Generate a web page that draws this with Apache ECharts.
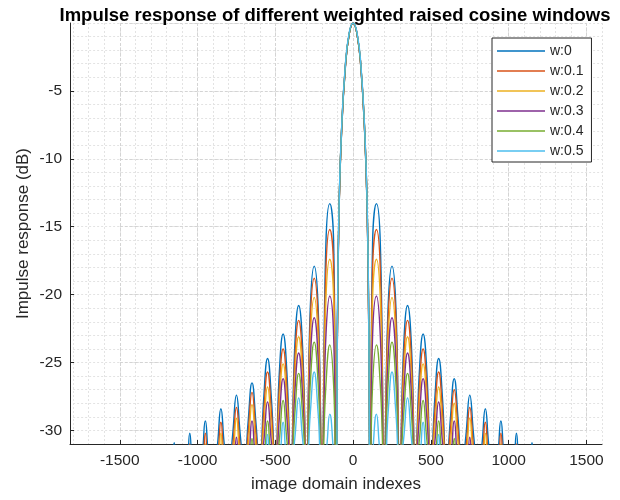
<!DOCTYPE html>
<html>
<head>
<meta charset="utf-8">
<script src="https://cdn.jsdelivr.net/npm/echarts@6/dist/echarts.min.js"></script>
<style>
  html, body { margin: 0; padding: 0; background: #fff; }
  #main { width: 620px; height: 500px; }
</style>
</head>
<body>
<div id="main"></div>
<script>
// sample positions along the image domain (shared by every curve)
var xIdx = [
  -1200, -1175, -1150, -1125, -1100, -1075, -1050, -1025, -1000, -975, -950, -925, -900, -875, -850, -825,
  -800, -775, -750, -725, -700, -675, -650, -625, -600, -575, -550, -525, -500, -475, -450, -425,
  -400, -375, -350, -325, -300, -275, -250, -225, -200, -175, -150, -125,
  -110, -100, -90, -75, -50, -25, 0, 25, 50, 75, 90, 100, 110,
  125, 150, 175, 200, 225, 250, 275, 300, 325, 350, 375, 400, 425, 450, 475, 500,
  525, 550, 575, 600, 625, 650, 675, 700, 725, 750, 775, 800, 825, 850, 875, 900,
  925, 950, 975, 1000, 1025, 1050, 1075, 1100, 1125, 1150, 1175, 1200
];

// impulse response (dB), one array per weight
var w0 = [
  -33, -33.9, -30.9, -33.9, -33, -33.2, -30.2, -33.2, -33, -32.3, -29.3, -32.3, -33, -31.4, -28.4, -31.4,
  -33, -30.4, -27.4, -30.4, -33, -29.4, -26.5, -29.4, -33, -27.7, -24.7, -27.7, -33, -25.9, -22.9, -25.9,
  -33, -23.8, -20.8, -23.8, -33, -20.9, -17.9, -20.9, -33, -16.3, -13.3, -16.3,
  -34, -22, -13.8, -8.3, -3.3, -0.8, 0, -0.8, -3.3, -8.3, -13.8, -22, -34,
  -16.3, -13.3, -16.3, -33, -20.9, -17.9, -20.9, -33, -23.8, -20.8, -23.8, -33, -25.9, -22.9, -25.9, -33,
  -27.7, -24.7, -27.7, -33, -29.2, -26.2, -29.2, -33, -30.4, -27.4, -30.4, -33, -31.4, -28.4, -31.4, -33,
  -32.3, -29.3, -32.3, -33, -33.2, -30.2, -33.2, -33, -33.9, -30.9, -33.9, -33
];
var w01 = [
  -33, -34.8, -31.8, -34.8, -33, -34.0, -31.0, -34.0, -33, -33.2, -30.2, -33.2, -33, -32.4, -29.4, -32.4,
  -33, -31.3, -28.3, -31.3, -33, -30.2, -27.2, -30.2, -33, -28.7, -25.7, -28.7, -33, -27.0, -24.0, -27.0,
  -33, -24.9, -21.9, -24.9, -33, -21.8, -18.8, -21.8, -33, -18.2, -15.2, -18.2,
  -34, -21.8, -13.7, -8.2, -3.3, -0.8, 0, -0.8, -3.3, -8.2, -13.7, -21.8, -34,
  -18.2, -15.2, -18.2, -33, -21.8, -18.8, -21.8, -33, -24.9, -21.9, -24.9, -33, -27.0, -24.0, -27.0, -33,
  -28.7, -25.7, -28.7, -33, -30.0, -27.0, -30.0, -33, -31.3, -28.3, -31.3, -33, -32.4, -29.4, -32.4, -33,
  -33.2, -30.2, -33.2, -33, -34.0, -31.0, -34.0, -33, -34.8, -31.8, -34.8, -33
];
var w02 = [
  -33, -35.5, -32.5, -35.5, -33, -34.8, -31.8, -34.8, -33, -34.0, -31.0, -34.0, -33, -33.2, -30.2, -33.2,
  -33, -32.1, -29.1, -32.1, -33, -31.1, -28.1, -31.1, -33, -29.8, -26.8, -29.8, -33, -28.1, -25.1, -28.1,
  -33, -26.1, -23.1, -26.1, -33, -23.2, -20.2, -23.2, -33, -20.4, -17.4, -20.4,
  -34, -21.6, -13.6, -8.2, -3.2, -0.8, 0, -0.8, -3.2, -8.2, -13.6, -21.6, -34,
  -20.4, -17.4, -20.4, -33, -23.2, -20.2, -23.2, -33, -26.1, -23.1, -26.1, -33, -28.1, -25.1, -28.1, -33,
  -29.8, -26.8, -29.8, -33, -31.0, -28.0, -31.0, -33, -32.1, -29.1, -32.1, -33, -33.2, -30.2, -33.2, -33,
  -34.0, -31.0, -34.0, -33, -34.8, -31.8, -34.8, -33, -35.5, -32.5, -35.5, -33
];
var w03 = [
  -33, -36.4, -33.4, -36.4, -33, -35.7, -32.7, -35.7, -33, -35.0, -32.0, -35.0, -33, -34.2, -31.2, -34.2,
  -33, -33.5, -30.5, -33.5, -33, -32.3, -29.3, -32.3, -33, -30.9, -27.9, -30.9, -33, -29.2, -26.2, -29.2,
  -33, -27.3, -24.3, -27.3, -33, -24.7, -21.7, -24.7, -33, -23.1, -20.1, -23.1,
  -34, -21.4, -13.5, -8.1, -3.2, -0.8, 0, -0.8, -3.2, -8.1, -13.5, -21.4, -34,
  -23.1, -20.1, -23.1, -33, -24.7, -21.7, -24.7, -33, -27.3, -24.3, -27.3, -33, -29.2, -26.2, -29.2, -33,
  -30.9, -27.9, -30.9, -33, -32.3, -29.3, -32.3, -33, -33.5, -30.5, -33.5, -33, -34.2, -31.2, -34.2, -33,
  -35.0, -32.0, -35.0, -33, -35.7, -32.7, -35.7, -33, -36.4, -33.4, -36.4, -33
];
var w04 = [
  -33, -37.2, -34.2, -37.2, -33, -36.6, -33.6, -36.6, -33, -36.0, -33.0, -36.0, -33, -35.3, -32.3, -35.3,
  -33, -34.5, -31.5, -34.5, -33, -33.6, -30.6, -33.6, -33, -32.3, -29.3, -32.3, -33, -30.8, -27.8, -30.8,
  -33, -28.8, -25.8, -28.8, -33, -26.5, -23.5, -26.5, -33, -26.7, -23.7, -26.7,
  -34, -21.2, -13.4, -8.1, -3.2, -0.8, 0, -0.8, -3.2, -8.1, -13.4, -21.2, -34,
  -26.7, -23.7, -26.7, -33, -26.5, -23.5, -26.5, -33, -28.8, -25.8, -28.8, -33, -30.8, -27.8, -30.8, -33,
  -32.3, -29.3, -32.3, -33, -33.6, -30.6, -33.6, -33, -34.5, -31.5, -34.5, -33, -35.3, -32.3, -35.3, -33,
  -36.0, -33.0, -36.0, -33, -36.6, -33.6, -36.6, -33, -37.2, -34.2, -37.2, -33
];
var w05 = [
  -33, -37.9, -34.9, -37.9, -33, -37.3, -34.3, -37.3, -33, -36.7, -33.7, -36.7, -33, -36.0, -33.0, -36.0,
  -33, -35.2, -32.2, -35.2, -33, -34.3, -31.3, -34.3, -33, -33.3, -30.3, -33.3, -33, -32.4, -29.4, -32.4,
  -33, -30.6, -27.6, -30.6, -33, -28.7, -25.7, -28.7, -33, -31.8, -28.8, -31.8,
  -34, -21.0, -13.3, -8.0, -3.1, -0.7, 0, -0.7, -3.1, -8.0, -13.3, -21.0, -34,
  -31.8, -28.8, -31.8, -33, -28.7, -25.7, -28.7, -33, -30.6, -27.6, -30.6, -33, -32.4, -29.4, -32.4, -33,
  -33.3, -30.3, -33.3, -33, -34.3, -31.3, -34.3, -33, -35.2, -32.2, -35.2, -33, -36.0, -33.0, -36.0, -33,
  -36.7, -33.7, -36.7, -33, -37.3, -34.3, -37.3, -33, -37.9, -34.9, -37.9, -33
];

var curves = [w0, w01, w02, w03, w04, w05];
var names = ['w:0', 'w:0.1', 'w:0.2', 'w:0.3', 'w:0.4', 'w:0.5'];
var colors = ['#0072BD', '#D95319', '#EDB120', '#7E2F8E', '#77AC30', '#4DBEEE'];

// axis limits
var xLim = [-1820, 1600];
var yLim = [-31, 0];

var myChart = echarts.init(document.getElementById('main'));

// plot box in pixels
var L = 70, R = 602, T = 23, B = 444;
var pxX = (R - L) / (xLim[1] - xLim[0]);
var pxY = (B - T) / (yLim[1] - yLim[0]);

var txt = '#262626';
var font = 'Liberation Sans';

var series = curves.map(function (ys, k) {
  return {
    name: names[k],
    type: 'line',
    xAxisIndex: 0,
    yAxisIndex: 0,
    data: xIdx.map(function (x, i) { return [x, ys[i]]; }),
    smooth: 0.5,
    symbol: 'none',
    lineStyle: { width: 1.4, color: colors[k] },
    itemStyle: { color: colors[k] },
    clip: true
  };
});

var hide = { axisLine: { show: false }, axisTick: { show: false }, axisLabel: { show: false } };

option = {
  backgroundColor: '#fff',
  animation: false,
  color: colors,
  title: {
    text: 'Impulse response of different weighted raised cosine windows',
    left: 330,
    top: 1,
    textAlign: 'center',
    textStyle: { fontFamily: font, fontSize: 18.5, fontWeight: 'bold', color: '#000' }
  },
  legend: {
    orient: 'vertical',
    left: 492,
    top: 38,
    padding: [5, 8, 3, 5],
    itemGap: 4,
    itemWidth: 48,
    itemHeight: 1.5,
    icon: 'rect',
    backgroundColor: '#fff',
    borderColor: '#262626',
    borderWidth: 1,
    borderRadius: 0,
    z: 10,
    textStyle: { fontFamily: font, fontSize: 14, color: txt, lineHeight: 16 },
    data: names
  },
  grid: [
    // data box
    { left: L, right: 620 - R, top: T, bottom: 500 - B },
    // minor grid: every 100 / every 1 dB
    { left: L + (-1800 - xLim[0]) * pxX, right: 620 - R, top: T, bottom: 500 - B },
    // major grid and tick labels: every 500 / every 5 dB
    { left: L + (-1500 - xLim[0]) * pxX, right: 620 - (L + (1500 - xLim[0]) * pxX),
      top: T, bottom: 500 - (B - 1 * pxY) }
  ],
  xAxis: [
    {
      type: 'value', gridIndex: 0, min: xLim[0], max: xLim[1],
      axisLine: { show: true, onZero: false, lineStyle: { color: txt, width: 1 } },
      axisTick: { show: false }, axisLabel: { show: false }, splitLine: { show: false },
      name: 'image domain indexes', nameLocation: 'middle', nameGap: 32,
      nameTextStyle: { fontFamily: font, fontSize: 17, color: txt }
    },
    Object.assign({
      type: 'value', gridIndex: 1, min: -1800, max: 1600, interval: 100,
      splitLine: { show: true, lineStyle: { color: '#e3e3e3', type: [2, 2], width: 1 } }
    }, hide),
    {
      type: 'value', gridIndex: 2, min: -1500, max: 1500, interval: 500,
      position: 'bottom', offset: pxY,
      axisLine: { show: false, onZero: false },
      axisTick: { show: true, inside: true, length: 4, lineStyle: { color: txt } },
      axisLabel: {
        show: true, margin: 9, color: txt, fontFamily: font, fontSize: 15.5,
        formatter: function (v) { return String(v); }
      },
      splitLine: { show: true, lineStyle: { color: '#d4d4d4', type: [3, 2], width: 1 } }
    }
  ],
  yAxis: [
    {
      type: 'value', gridIndex: 0, min: yLim[0], max: yLim[1],
      axisLine: { show: true, onZero: false, lineStyle: { color: txt, width: 1 } },
      axisTick: { show: false }, axisLabel: { show: false }, splitLine: { show: false },
      name: 'Impulse response (dB)', nameLocation: 'middle', nameGap: 38,
      nameTextStyle: { fontFamily: font, fontSize: 17, color: txt }
    },
    Object.assign({
      type: 'value', gridIndex: 1, min: yLim[0], max: yLim[1], interval: 1,
      splitLine: { show: true, lineStyle: { color: '#e3e3e3', type: [2, 2], width: 1 } }
    }, hide),
    {
      type: 'value', gridIndex: 2, min: -30, max: 0, interval: 5,
      position: 'left', offset: (-1500 - xLim[0]) * pxX,
      axisLine: { show: false, onZero: false },
      axisTick: { show: true, inside: true, length: 4, lineStyle: { color: txt } },
      axisLabel: {
        show: true, margin: 8, color: txt, fontFamily: font, fontSize: 15.5,
        showMaxLabel: false,
        formatter: function (v) { return String(v); }
      },
      splitLine: { show: true, lineStyle: { color: '#d4d4d4', type: [3, 2], width: 1 } }
    }
  ],
  series: series
};

myChart.setOption(option);
</script>
</body>
</html>
